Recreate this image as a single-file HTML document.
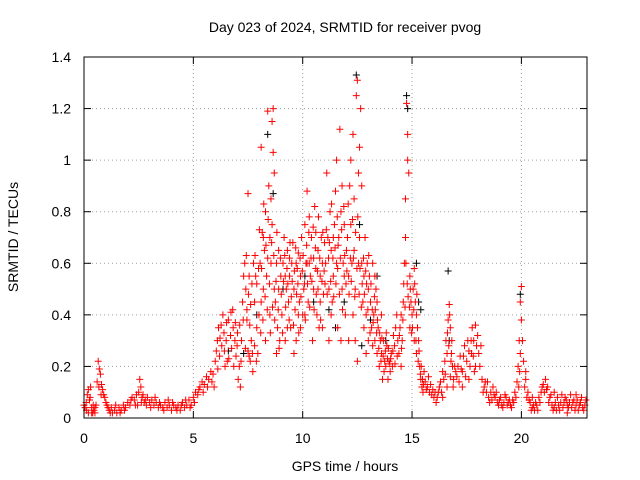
<!DOCTYPE html>
<html><head><meta charset="utf-8"><style>
body{margin:0;background:#fff;}
svg{display:block;font-family:"Liberation Sans",sans-serif;font-size:14px;}
</style></head><body>
<svg id="chart" width="640" height="480" xmlns="http://www.w3.org/2000/svg">
<text x="345" y="32" text-anchor="middle">Day 023 of 2024, SRMTID for receiver pvog</text>
<text x="345" y="471" text-anchor="middle">GPS time / hours</text>
<text x="0" y="0" text-anchor="middle" transform="translate(18,237) rotate(-90)">SRMTID / TECUs</text>
<g id="grid"></g>
<g id="ticks"></g>
<g id="black"></g>
<g id="red"></g>
<rect x="84" y="57" width="503" height="361" fill="none" stroke="#000" stroke-width="1"/>
</svg>
<script>
const xTicks=[0,5,10,15,20];
const yTicks=[0,0.2,0.4,0.6,0.8,1,1.2,1.4];
const yTickLabels=["0","0.2","0.4","0.6","0.8","1","1.2","1.4"];
const redPoints=[[0,0.05],[0.05,0.04],[0.1,0.06],[0.15,0.09],[0.2,0.11],[0.25,0.07],[0.3,0.12],[0.35,0.04],[0.4,0.02],[0.45,0.03],[0.5,0.02],[0.55,0.05],[0.6,0.14],[0.65,0.22],[0.7,0.19],[0.75,0.17],[0.8,0.13],[0.85,0.11],[0.9,0.09],[0.95,0.08],[1.0,0.06],[1.05,0.05],[1.1,0.04],[1.15,0.03],[1.2,0.02],[0.2,0.02],[0.35,0.02],[0.5,0.04],
[1.3,0.02],[1.4,0.03],[1.5,0.02],[1.6,0.04],[1.7,0.03],[1.8,0.05],[1.9,0.04],[2.0,0.06],
[2.1,0.05],[2.2,0.08],[2.3,0.07],[2.4,0.09],[2.5,0.1],[2.55,0.15],[2.6,0.12],[2.65,0.08],[2.7,0.09],[2.8,0.07],[2.9,0.08],[3.0,0.06],[2.45,0.05],[2.75,0.06],
[3.1,0.07],[3.2,0.05],[3.3,0.06],[3.4,0.04],[3.5,0.05],[3.6,0.04],[3.7,0.06],[3.8,0.04],[3.9,0.05],[4.0,0.03],[4.1,0.05],[4.2,0.04],[4.3,0.05],[4.4,0.03],[4.5,0.06],[4.6,0.04],[4.7,0.05],[4.8,0.07],[4.9,0.05],[5.0,0.08],
[5.1,0.1],[5.2,0.09],[5.3,0.12],[5.4,0.14],[5.5,0.13],[5.6,0.16],[5.7,0.15],[5.8,0.18],[5.9,0.17],[6.0,0.22],
[6.05,0.26],[6.1,0.3],[6.15,0.35],[6.2,0.24],[6.3,0.28],[6.35,0.4],[6.4,0.33],[6.5,0.3],[6.55,0.22],[6.6,0.38],[6.7,0.32],[6.75,0.27],[6.8,0.42],[6.9,0.3],[6.95,0.24],[7.0,0.28],[6.45,0.2],[6.85,0.2],
[7.05,0.15],[7.1,0.2],[7.15,0.12],[7.2,0.3],[7.25,0.45],[7.3,0.55],[7.35,0.6],[7.4,0.5],[7.45,0.38],[7.5,0.26],[7.55,0.24],[7.6,0.22],[7.65,0.3],[7.7,0.25],[7.75,0.6],[7.8,0.45],[7.85,0.55],[7.9,0.35],[7.95,0.25],[8.0,0.4],[7.5,0.87],[7.45,0.42],[7.55,0.55],[7.8,0.28],[7.9,0.52],
[8.05,0.6],[8.1,1.05],[8.15,0.72],[8.2,0.5],[8.25,0.65],[8.3,0.8],[8.35,0.55],[8.4,1.19],[8.45,0.9],[8.5,0.7],[8.55,0.6],[8.6,1.15],[8.65,1.2],[8.7,0.95],[8.75,0.45],[8.8,0.6],[8.85,0.35],[8.9,0.5],[8.95,0.3],[9.0,0.55],[8.1,0.45],[8.3,0.3],[8.5,0.4],[8.6,0.75],[8.7,0.5],[8.8,0.25],[8.2,0.7],[8.4,0.62],[8.9,0.65],[8.55,0.85],[8.65,1.03],
[9.05,0.4],[9.1,0.6],[9.15,0.7],[9.2,0.3],[9.25,0.5],[9.3,0.65],[9.35,0.45],[9.4,0.55],[9.45,0.35],[9.5,0.6],[9.55,0.68],[9.6,0.5],[9.65,0.42],[9.7,0.3],[9.75,0.58],[9.8,0.64],[9.85,0.45],[9.9,0.55],[9.95,0.7],[10.0,0.4],[9.2,0.55],[9.4,0.62],[9.6,0.25],[9.8,0.4],[9.3,0.35],[9.7,0.6],[9.9,0.35],
[10.05,0.5],[10.1,0.75],[10.15,0.6],[10.2,0.88],[10.25,0.45],[10.3,0.6],[10.35,0.55],[10.4,0.7],[10.45,0.3],[10.5,0.62],[10.55,0.82],[10.6,0.58],[10.65,0.4],[10.7,0.65],[10.75,0.35],[10.8,0.55],[10.85,0.7],[10.9,0.6],[10.95,0.48],[11.0,0.68],[10.1,0.4],[10.3,0.78],[10.5,0.5],[10.7,0.5],[10.9,0.35],[10.2,0.6],[10.6,0.72],[10.8,0.45],
[11.05,0.6],[11.1,0.95],[11.15,0.7],[11.2,0.5],[11.25,0.8],[11.3,0.65],[11.35,0.45],[11.4,0.55],[11.45,0.75],[11.5,0.88],[11.55,0.6],[11.6,0.35],[11.65,0.7],[11.7,1.12],[11.75,0.8],[11.8,0.5],[11.85,0.6],[11.9,0.75],[11.95,0.4],[12.0,0.65],[11.2,0.3],[11.4,0.7],[11.6,0.58],[11.8,0.9],[11.3,0.4],[11.55,1.0],[11.9,0.55],[11.75,0.3],
[12.05,0.7],[12.1,0.55],[12.15,0.9],[12.2,0.75],[12.25,0.6],[12.3,1.1],[12.35,0.85],[12.4,0.5],[12.45,1.25],[12.5,1.31],[12.55,0.95],[12.6,0.7],[12.65,1.2],[12.7,0.6],[12.75,0.45],[12.8,0.55],[12.85,0.7],[12.9,0.4],[12.95,0.6],[13.0,0.5],[12.1,0.3],[12.3,0.4],[12.5,0.22],[12.7,0.9],[12.2,1.0],[12.4,0.3],[12.6,1.05],[12.9,0.25],[12.55,0.6],[12.35,0.65],[12.8,0.35],[13.0,0.3],
[13.05,0.55],[13.1,0.45],[13.15,0.35],[13.2,0.6],[13.25,0.4],[13.3,0.3],[13.35,0.5],[13.4,0.25],[13.45,0.35],[13.5,0.2],[13.55,0.3],[13.6,0.25],[13.65,0.15],[13.7,0.3],[13.75,0.22],[13.8,0.2],[13.85,0.28],[13.9,0.15],[13.95,0.22],[14.0,0.18],[13.2,0.28],[13.4,0.45],[13.6,0.4],[13.3,0.55],
[14.05,0.25],[14.1,0.2],[14.15,0.32],[14.2,0.28],[14.25,0.35],[14.3,0.4],[14.35,0.3],[14.4,0.25],[14.45,0.35],[14.5,0.4],[14.55,0.3],[14.6,0.45],[14.65,0.6],[14.7,0.85],[14.75,1.22],[14.8,1.1],[14.85,0.95],[14.9,0.55],[14.95,0.45],[15.0,0.4],[14.7,0.7],[14.8,1.0],[14.9,0.35],[14.5,0.2],
[15.05,0.5],[15.1,0.58],[15.15,0.45],[15.2,0.4],[15.25,0.35],[15.3,0.3],[15.35,0.2],[15.4,0.15],[15.45,0.12],[15.5,0.1],[15.6,0.14],[15.7,0.12],[15.8,0.1],[15.9,0.09],[16.0,0.08],[15.1,0.3],[15.2,0.25],[15.55,0.18],[15.75,0.16],
[16.1,0.06],[16.2,0.1],[16.3,0.14],[16.4,0.18],[16.5,0.22],[16.55,0.3],[16.6,0.25],[16.65,0.38],[16.7,0.44],[16.75,0.35],[16.8,0.25],[16.85,0.2],[16.9,0.15],[17.0,0.18],[16.6,0.12],[16.75,0.16],[16.4,0.08],
[17.1,0.2],[17.2,0.24],[17.3,0.18],[17.4,0.28],[17.5,0.22],[17.6,0.26],[17.7,0.3],[17.8,0.24],[17.9,0.36],[18.0,0.32],[17.3,0.12],[17.6,0.15],[17.9,0.2],[17.75,0.35],
[18.1,0.2],[18.2,0.15],[18.3,0.12],[18.4,0.1],[18.5,0.08],[18.6,0.1],[18.7,0.12],[18.8,0.08],[18.9,0.06],[19.0,0.07],[18.15,0.28],[18.45,0.14],
[19.1,0.05],[19.2,0.06],[19.3,0.08],[19.4,0.06],[19.5,0.05],[19.6,0.07],[19.7,0.1],[19.8,0.14],[19.85,0.2],[19.9,0.3],[19.95,0.45],[20.0,0.51],[19.95,0.25],[20.0,0.38],
[20.1,0.22],[20.2,0.15],[20.3,0.1],[20.4,0.06],[20.5,0.04],[20.6,0.03],[20.7,0.05],[20.8,0.08],[20.9,0.1],[21.0,0.13],[20.2,0.18],[20.5,0.08],
[21.1,0.15],[21.2,0.12],[21.3,0.08],[21.4,0.05],[21.5,0.04],[21.6,0.03],[21.7,0.05],[21.8,0.06],[21.9,0.04],[22.0,0.08],[22.1,0.05],[22.2,0.06],[22.3,0.04],[22.4,0.07],[22.5,0.05],[22.6,0.03],[22.7,0.06],[22.8,0.04],[22.9,0.05],[21.5,0.1],[22.1,0.02],[22.5,0.09]];
const redExtra=[[0.12,0.03],[0.28,0.08],[0.42,0.05],[0.68,0.12],[0.78,0.09],[1.25,0.04],[1.45,0.05],[1.65,0.02],[1.85,0.03],[2.15,0.07],[2.35,0.05],[2.62,0.06],[2.85,0.05],[3.05,0.04],[3.25,0.08],[3.45,0.06],[3.65,0.03],[3.85,0.07],[4.05,0.06],[4.25,0.03],[4.45,0.05],[4.65,0.07],[4.85,0.04],[5.05,0.06],[5.25,0.11],[5.45,0.1],[5.65,0.12],[5.85,0.14],[5.95,0.12],
[6.12,0.19],[6.22,0.31],[6.27,0.36],[6.42,0.26],[6.52,0.37],[6.62,0.23],[6.72,0.41],[6.82,0.35],[6.92,0.37],[7.02,0.33],[7.12,0.36],[7.18,0.22],[7.28,0.38],[7.38,0.27],[7.42,0.63],[7.52,0.48],[7.58,0.36],[7.62,0.44],[7.68,0.52],[7.72,0.18],[7.82,0.63],[7.88,0.22],[7.98,0.58],
[8.02,0.73],[8.08,0.33],[8.12,0.58],[8.18,0.38],[8.22,0.83],[8.28,0.47],[8.32,0.67],[8.38,0.42],[8.42,0.77],[8.48,0.52],[8.52,0.33],[8.58,0.68],[8.62,0.43],[8.68,0.63],[8.72,0.38],[8.78,0.53],[8.82,0.72],[8.88,0.42],[8.92,0.27],[8.98,0.62],
[9.02,0.48],[9.08,0.33],[9.12,0.53],[9.18,0.63],[9.22,0.43],[9.28,0.58],[9.32,0.52],[9.38,0.38],[9.42,0.68],[9.48,0.47],[9.52,0.53],[9.58,0.36],[9.62,0.57],[9.68,0.66],[9.72,0.48],[9.78,0.52],[9.82,0.33],[9.88,0.62],[9.92,0.47],[9.98,0.57],
[10.02,0.63],[10.08,0.52],[10.12,0.38],[10.18,0.67],[10.22,0.52],[10.28,0.72],[10.32,0.43],[10.38,0.62],[10.42,0.53],[10.48,0.74],[10.52,0.42],[10.58,0.66],[10.62,0.48],[10.68,0.57],[10.72,0.78],[10.78,0.62],[10.82,0.38],[10.88,0.53],[10.92,0.72],[10.98,0.57],
[11.02,0.52],[11.08,0.73],[11.12,0.48],[11.18,0.62],[11.22,0.68],[11.28,0.53],[11.32,0.83],[11.38,0.62],[11.42,0.47],[11.48,0.66],[11.52,0.52],[11.58,0.78],[11.62,0.67],[11.68,0.48],[11.72,0.62],[11.78,0.73],[11.82,0.42],[11.88,0.82],[11.92,0.63],[11.98,0.52],
[12.02,0.57],[12.08,0.83],[12.12,0.48],[12.18,0.62],[12.22,0.53],[12.28,0.77],[12.32,0.62],[12.38,0.47],[12.42,0.72],[12.48,0.58],[12.52,0.78],[12.58,0.48],[12.62,0.58],[12.68,0.43],[12.72,0.52],[12.78,0.62],[12.82,0.48],[12.88,0.57],[12.92,0.52],[12.98,0.42],
[13.02,0.63],[13.08,0.33],[13.12,0.52],[13.18,0.42],[13.22,0.37],[13.28,0.47],[13.32,0.42],[13.38,0.33],[13.42,0.38],[13.48,0.27],[13.52,0.33],[13.58,0.22],[13.62,0.31],[13.68,0.24],[13.72,0.18],[13.78,0.26],[13.82,0.33],[13.88,0.23],[13.92,0.27],[13.98,0.21],
[14.02,0.23],[14.12,0.26],[14.22,0.21],[14.32,0.24],[14.42,0.32],[14.52,0.27],[14.58,0.38],[14.62,0.52],[14.68,0.43],[14.72,0.6],[14.78,0.52],[14.82,0.47],[14.88,0.43],[14.92,0.5],[14.98,0.33],
[15.02,0.35],[15.08,0.42],[15.12,0.52],[15.18,0.3],[15.22,0.48],[15.28,0.22],[15.32,0.26],[15.38,0.17],[15.42,0.2],[15.48,0.15],[15.52,0.13],[15.65,0.11],[15.85,0.13],[15.95,0.11],
[16.05,0.1],[16.15,0.08],[16.25,0.12],[16.35,0.1],[16.45,0.15],[16.52,0.17],[16.62,0.33],[16.68,0.28],[16.72,0.4],[16.78,0.22],[16.82,0.3],[16.88,0.12],[16.95,0.2],
[17.05,0.16],[17.15,0.14],[17.25,0.19],[17.35,0.24],[17.45,0.16],[17.55,0.3],[17.65,0.2],[17.72,0.25],[17.82,0.3],[17.85,0.18],[17.95,0.28],
[18.05,0.25],[18.25,0.1],[18.35,0.14],[18.55,0.06],[18.65,0.07],[18.75,0.09],[18.85,0.1],[18.95,0.05],[19.05,0.08],[19.15,0.04],[19.25,0.09],[19.35,0.05],[19.45,0.07],[19.55,0.04],[19.65,0.06],[19.75,0.08],[19.88,0.12],[19.92,0.18],
[20.05,0.3],[20.15,0.12],[20.25,0.08],[20.35,0.07],[20.45,0.03],[20.55,0.05],[20.65,0.06],[20.75,0.03],[20.85,0.06],[20.95,0.12],[21.05,0.1],[21.15,0.11],[21.25,0.06],[21.35,0.09],[21.45,0.03],[21.55,0.06],[21.65,0.08],[21.75,0.03],[21.85,0.09],[21.95,0.06],[22.05,0.07],[22.15,0.04],[22.25,0.09],[22.35,0.06],[22.45,0.03],[22.55,0.07],[22.65,0.05],[22.75,0.08],[22.85,0.03],[22.95,0.07]];
const blackPoints=[[12.45,1.33],[8.65,0.87],[14.75,1.25],[16.65,0.57],[19.95,0.48],[15.2,0.6],[12.7,0.28],[13.4,0.55],[7.3,0.25],[10.5,0.45],[11.2,0.42],[9.1,0.5],[15.3,0.45],[13.8,0.3],[12.6,0.75],[11.9,0.45],[10.1,0.55],[8.4,1.1],[14.8,1.2],[6.6,0.26],[7.9,0.4],[13.1,0.38],[15.4,0.42],[16.7,0.3],[11.5,0.35]];
const X=v=>84+v*503/23, Y=v=>418-v*361/1.4;
const NS="http://www.w3.org/2000/svg";
function mk(tag,attrs,parent){const e=document.createElementNS(NS,tag);for(const k in attrs)e.setAttribute(k,attrs[k]);parent.appendChild(e);return e;}
const grid=document.getElementById('grid'),ticks=document.getElementById('ticks');
xTicks.forEach(t=>{
 const x=X(t);
 if(t>0){const g=mk('line',{x1:x,y1:57,x2:x,y2:418,stroke:'#a0a0a0','stroke-dasharray':'1,3'},grid);
 
 }
 mk('line',{x1:x,y1:418,x2:x,y2:411,stroke:'#000'},ticks);
 mk('line',{x1:x,y1:57,x2:x,y2:64,stroke:'#000'},ticks);
 const l=mk('text',{x:x,y:443,'text-anchor':'middle'},ticks);l.textContent=t;
 
 
});
yTicks.forEach((t,i)=>{
 const y=Y(t);
 if(t>0&&t<1.4){const g=mk('line',{x1:84,y1:y,x2:587,y2:y,stroke:'#a0a0a0','stroke-dasharray':'1,3'},grid);
 
 }
 mk('line',{x1:84,y1:y,x2:91,y2:y,stroke:'#000'},ticks);
 mk('line',{x1:587,y1:y,x2:580,y2:y,stroke:'#000'},ticks);
 const l=mk('text',{x:71,y:y+5,'text-anchor':'end'},ticks);l.textContent=yTickLabels[i];
 
 
});
function plot(pts,gid,color,name){
 const g=document.getElementById(gid);let d='';
 pts.forEach(p=>{const x=X(p[0]),y=Y(p[1]);d+=`M${x-3.5},${y}h7M${x},${y-3.5}v7`;});
 const path=mk('path',{d:d,stroke:color,'stroke-width':1,fill:'none'},g);
 
 
}
plot(blackPoints,'black','#000','black-points');
plot(redPoints,'red','#ff0000','red-points');
plot(redExtra,'red','#ff0000','red-points-extra');
</script>
</body></html>
